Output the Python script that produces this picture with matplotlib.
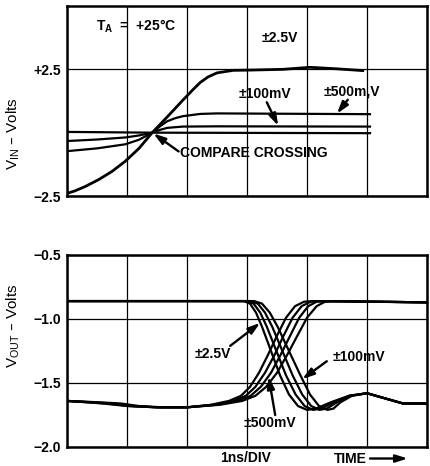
import matplotlib
matplotlib.use("Agg")
import matplotlib.pyplot as plt

plt.rcParams['font.family'] = ['Liberation Sans', 'DejaVu Sans']
plt.rcParams['font.weight'] = 'bold'
plt.rcParams['mathtext.default'] = 'regular'

# ---- top panel: input waveforms (t in ns, V in volts) ----
in_25_t = [0, 0.13, 0.3, 0.53, 0.75, 0.97, 1.2, 1.42, 1.67, 1.93, 2.1, 2.22, 2.35, 2.5, 2.77, 3.05, 3.6, 4.05, 4.5, 4.93]
in_25_v = [-2.40, -2.30, -2.13, -1.85, -1.53, -1.13, -0.62, 0.0, 0.62, 1.28, 1.70, 1.98, 2.20, 2.36, 2.46, 2.47, 2.50, 2.58, 2.52, 2.45]
in_500m_t = [0, 0.5, 0.97, 1.2, 1.42, 1.55, 1.67, 1.8, 1.93, 2.22, 2.5, 5.05]
in_500m_v = [-0.73, -0.62, -0.46, -0.28, 0.0, 0.25, 0.45, 0.57, 0.65, 0.74, 0.76, 0.73]
in_100m_t = [0, 0.5, 0.97, 1.2, 1.42, 1.55, 1.67, 1.93, 2.5, 5.05]
in_100m_v = [-0.33, -0.27, -0.19, -0.11, 0.0, 0.11, 0.19, 0.24, 0.25, 0.24]
in_small_t = [0, 1.42, 5.05]
in_small_v = [0.03, 0.0, -0.02]

# ---- bottom panel: output waveforms ----
fall_v = [-0.86, -0.86, -0.88, -0.95, -1.06, -1.25, -1.44, -1.59, -1.68, -1.71, -1.70,
          -1.65, -1.60, -1.58, -1.62, -1.66, -1.66]
fall_t = [
    [0, 2.95, 3.05, 3.15, 3.25, 3.40, 3.55, 3.70, 3.85, 4.00, 4.15, 4.40, 4.70, 5.00, 5.30, 5.60, 6.0],
    [0, 3.00, 3.11, 3.22, 3.33, 3.49, 3.65, 3.81, 3.96, 4.10, 4.24, 4.45, 4.70, 5.00, 5.30, 5.60, 6.0],
    [0, 3.06, 3.18, 3.30, 3.42, 3.59, 3.76, 3.92, 4.07, 4.21, 4.33, 4.50, 4.72, 5.00, 5.30, 5.60, 6.0],
    [0, 3.12, 3.25, 3.38, 3.51, 3.70, 3.89, 4.05, 4.20, 4.34, 4.44, 4.56, 4.75, 5.00, 5.30, 5.60, 6.0],
]
rise_v = [-1.64, -1.65, -1.66, -1.68, -1.69, -1.69, -1.67, -1.64, -1.60, -1.53, -1.42,
          -1.28, -1.13, -0.99, -0.90, -0.865, -0.86, -0.87]
rise_t = [
    [0, 0.30, 0.60, 1.00, 1.5, 2.0, 2.40, 2.70, 2.90, 3.05, 3.20, 3.35, 3.50, 3.65, 3.80, 3.95, 4.10, 6.0],
    [0, 0.40, 0.75, 1.10, 1.5, 2.0, 2.45, 2.78, 2.98, 3.14, 3.30, 3.46, 3.61, 3.76, 3.91, 4.06, 4.20, 6.0],
    [0, 0.50, 0.90, 1.20, 1.6, 2.0, 2.50, 2.85, 3.06, 3.23, 3.40, 3.56, 3.72, 3.87, 4.02, 4.16, 4.30, 6.0],
    [0, 0.35, 0.65, 1.05, 1.5, 2.0, 2.55, 2.92, 3.14, 3.32, 3.50, 3.67, 3.84, 4.00, 4.16, 4.30, 4.45, 6.0],
]

fig = plt.figure(figsize=(4.3, 4.66), dpi=100)
ax1 = fig.add_axes([67/430, 1-196/466, 360/430, 190/466])
ax2 = fig.add_axes([67/430, 1-447/466, 360/430, 192/466])

arrow = dict(arrowstyle='-|>,head_length=0.7,head_width=0.22', lw=1.7, color='black',
             shrinkA=0, shrinkB=0)
fs = 10

for ax in (ax1, ax2):
    ax.set_xlim(0, 6)
    ax.set_xticks(range(7))
    ax.set_xticklabels([])
    ax.tick_params(length=0, pad=4, labelsize=fs)
    ax.grid(True, color='black', lw=0.9)
    for s in ax.spines.values():
        s.set_linewidth(1.8)

# top
ax1.set_ylim(-2.5, 5.0)
ax1.set_yticks([-2.5, 2.5])
ax1.set_yticklabels(['\u22122.5', '+2.5'])
ax1.plot(in_25_t, in_25_v, color='black', lw=2.0)
ax1.plot(in_500m_t, in_500m_v, color='black', lw=1.6)
ax1.plot(in_100m_t, in_100m_v, color='black', lw=1.6)
ax1.plot(in_small_t, in_small_v, color='black', lw=1.6)
ax1.text(1.15, 4.2, 'T$_\\mathregular{A}$  =  +25\u00b0C', ha='center', va='center', fontsize=fs)
ax1.text(3.55, 3.73, '\u00b12.5V', ha='center', va='center', fontsize=fs)
ax1.text(3.3, 1.51, '\u00b1100mV', ha='center', va='center', fontsize=fs)
ax1.annotate('', xy=(3.52, 0.27), xytext=(3.33, 1.2), arrowprops=arrow)
ax1.text(4.75, 1.63, '\u00b1500m,V', ha='center', va='center', fontsize=fs)
ax1.annotate('', xy=(4.5, 0.75), xytext=(4.68, 1.3), arrowprops=arrow)
ax1.text(1.88, -0.82, 'COMPARE CROSSING', ha='left', va='center', fontsize=fs)
ax1.annotate('', xy=(1.44, -0.03), xytext=(1.86, -0.74), arrowprops=arrow)
ax1.set_ylabel('V$_\\mathregular{IN}$ \u2013 Volts', fontsize=11)
ax1.yaxis.set_label_coords(-0.125, 0.33)

# bottom
ax2.set_ylim(-2.0, -0.5)
ax2.set_yticks([-2.0, -1.5, -1.0, -0.5])
ax2.set_yticklabels(['\u22122.0', '\u22121.5', '\u22121.0', '\u22120.5'])
for t in fall_t:
    ax2.plot(t, fall_v, color='black', lw=1.6)
for t in rise_t:
    ax2.plot(t, rise_v, color='black', lw=1.6)
ax2.text(2.43, -1.27, '\u00b12.5V', ha='center', va='center', fontsize=fs)
ax2.annotate('', xy=(3.22, -1.03), xytext=(2.72, -1.21), arrowprops=arrow)
ax2.text(4.87, -1.30, '\u00b1100mV', ha='center', va='center', fontsize=fs)
ax2.annotate('', xy=(3.92, -1.47), xytext=(4.33, -1.33), arrowprops=arrow)
ax2.text(3.38, -1.81, '\u00b1500mV', ha='center', va='center', fontsize=fs)
ax2.annotate('', xy=(3.36, -1.45), xytext=(3.47, -1.75), arrowprops=arrow)
ax2.text(2.97, -2.085, '1ns/DIV', ha='center', va='center', fontsize=fs, clip_on=False)
ax2.text(4.72, -2.095, 'TIME', ha='center', va='center', fontsize=fs, clip_on=False)
ax2.annotate('', xy=(5.68, -2.09), xytext=(5.05, -2.09), arrowprops=arrow,
             annotation_clip=False)
ax2.set_ylabel('V$_\\mathregular{OUT}$ \u2013 Volts', fontsize=11)
ax2.yaxis.set_label_coords(-0.125, 0.63)

fig.savefig('out.png', dpi=100)
